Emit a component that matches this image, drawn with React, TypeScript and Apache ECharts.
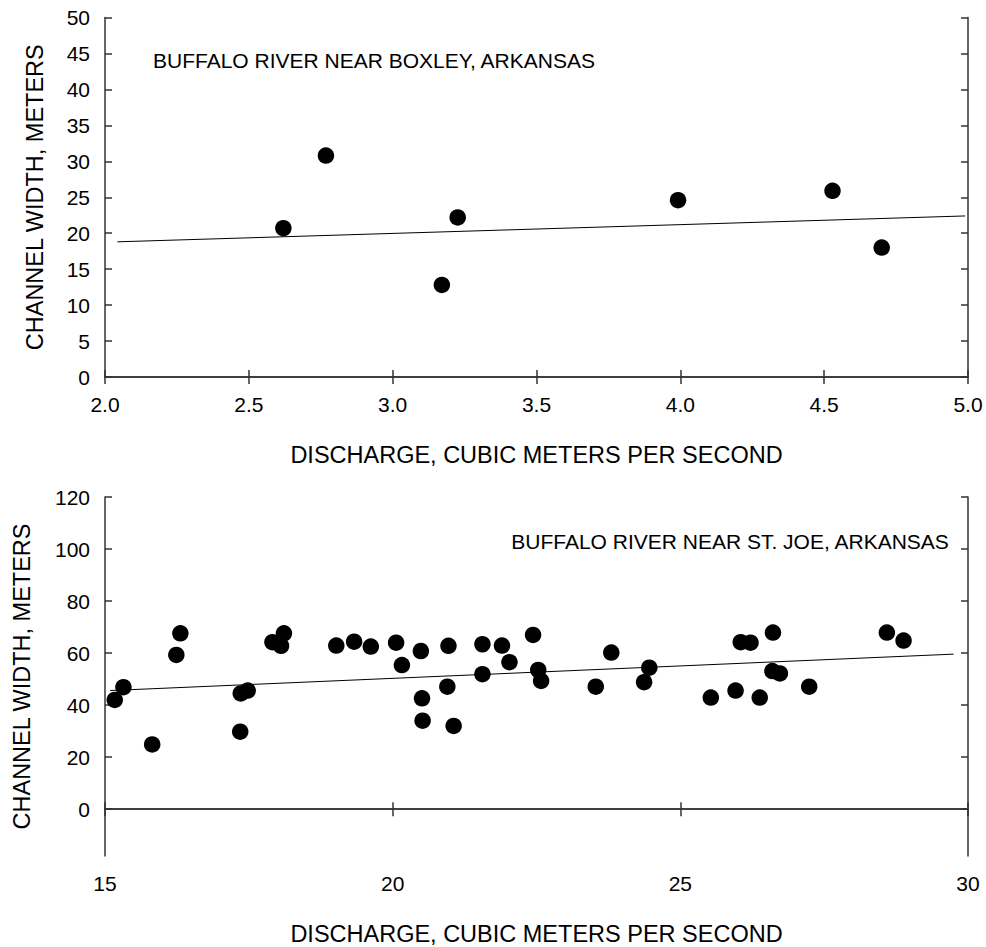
import React, { useEffect, useRef } from "react";
import * as echarts from "echarts";

// Buffalo River near Boxley, Arkansas
const boxleyDischarge = [2.62, 2.768, 3.171, 3.226, 3.992, 4.529, 4.70];
const boxleyWidth = [20.7, 30.8, 12.8, 22.2, 24.6, 25.9, 18.0];
const boxleyFitX = [2.043, 4.99];
const boxleyFitY = [18.8, 22.4];

// Buffalo River near St. Joe, Arkansas
const stJoeDischarge = [
  15.17, 15.32, 15.82, 16.24, 16.31, 17.35, 17.36, 17.48, 17.91, 18.06, 18.11,
  19.02, 19.33, 19.62, 20.06, 20.16, 20.49, 20.51, 20.52, 20.95, 20.97, 21.06,
  21.56, 21.56, 21.90, 22.03, 22.44, 22.53, 22.58, 23.53, 23.80, 24.37, 24.46,
  25.53, 25.96, 26.05, 26.22, 26.38, 26.61, 26.60, 26.73, 27.24, 28.59, 28.88,
];
const stJoeWidth = [
  42.0, 46.9, 24.9, 59.3, 67.6, 29.8, 44.5, 45.6, 64.2, 62.8, 67.6,
  62.9, 64.4, 62.5, 64.0, 55.4, 60.8, 42.6, 34.0, 47.1, 62.8, 32.0,
  63.4, 51.9, 62.9, 56.5, 67.0, 53.5, 49.3, 47.1, 60.2, 48.8, 54.4,
  42.9, 45.6, 64.2, 64.0, 42.9, 67.9, 53.1, 52.2, 47.1, 67.9, 64.8,
];
const stJoeFitX = [15.09, 29.75];
const stJoeFitY = [45.6, 59.6];

const stJoeYTicks = [0, 20, 40, 60, 80, 100, 120];

const xTitle = "DISCHARGE, CUBIC METERS PER SECOND";
const yTitle = "CHANNEL WIDTH, METERS";
const boxleyLabel = "BUFFALO RIVER NEAR BOXLEY, ARKANSAS";
const stJoeLabel = "BUFFALO RIVER NEAR ST. JOE, ARKANSAS";

const FONT = "'Liberation Sans', Arial, sans-serif";
const AXIS_COLOR = "#333";

export default function App() {
  const ref = useRef<HTMLDivElement>(null);

  useEffect(() => {
    document.body.style.margin = "0";
    if (!ref.current) return;
    const chart = echarts.init(ref.current, null, { renderer: "svg" });

    const axisLine = { show: true, lineStyle: { color: AXIS_COLOR, width: 1.5 } };
    const tick = { show: true, inside: true, length: 7, lineStyle: { color: AXIS_COLOR, width: 1.5 } };
    const labelStyle = { color: "#000", fontSize: 21, fontFamily: FONT };
    const nameStyle = { color: "#000", fontSize: 23.5, fontFamily: FONT };

    const zip = (xs: number[], ys: number[]) => xs.map((x, i) => [x, ys[i]]);

    const option: any = {
      animation: false,
      backgroundColor: "#fff",
      grid: [
        { left: 105, right: 18, top: 17.5, height: 359.5 },
        { left: 105, right: 18, top: 497, height: 359 },
      ],
      xAxis: [
        {
          type: "value", gridIndex: 0, position: "bottom", min: 2, max: 5, interval: 0.5,
          axisLine, axisTick: tick, splitLine: { show: false },
          axisLabel: { ...labelStyle, margin: 17, formatter: (v: number) => v.toFixed(1) },
          name: xTitle, nameLocation: "middle", nameGap: 66, nameTextStyle: nameStyle,
        },
        {
          type: "value", gridIndex: 0, position: "top", min: 2, max: 5, interval: 0.5,
          axisLine, axisTick: tick, splitLine: { show: false }, axisLabel: { show: false },
        },
        {
          type: "value", gridIndex: 1, position: "bottom", min: 15, max: 30, interval: 5,
          axisLine, axisTick: tick, splitLine: { show: false },
          axisLabel: { ...labelStyle, margin: 17 },
          name: xTitle, nameLocation: "middle", nameGap: 66, nameTextStyle: nameStyle,
        },
        {
          type: "value", gridIndex: 1, position: "top", min: 15, max: 30, interval: 5,
          axisLine, axisTick: tick, splitLine: { show: false }, axisLabel: { show: false },
        },
      ],
      yAxis: [
        {
          type: "value", gridIndex: 0, position: "left", min: 0, max: 50, interval: 5,
          axisLine, axisTick: tick, splitLine: { show: false },
          axisLabel: { ...labelStyle, margin: 15 },
          name: yTitle, nameLocation: "middle", nameGap: 58, nameTextStyle: nameStyle,
        },
        {
          type: "value", gridIndex: 0, position: "right", min: 0, max: 50, interval: 5,
          axisLine, axisTick: tick, splitLine: { show: false }, axisLabel: { show: false },
        },
        {
          type: "value", gridIndex: 1, position: "left", min: -18, max: 120,
          axisLine, axisTick: { ...tick, customValues: stJoeYTicks }, splitLine: { show: false },
          axisLabel: { ...labelStyle, margin: 15, customValues: stJoeYTicks },
          name: yTitle, nameLocation: "middle", nameGap: 71, nameTextStyle: nameStyle,
        },
        {
          type: "value", gridIndex: 1, position: "right", min: -18, max: 120,
          axisLine, axisTick: { ...tick, customValues: stJoeYTicks }, splitLine: { show: false },
          axisLabel: { show: false },
        },
      ],
      series: [
        {
          type: "line", xAxisIndex: 0, yAxisIndex: 0, data: zip(boxleyFitX, boxleyFitY),
          showSymbol: false, symbol: "none", lineStyle: { color: "#000", width: 1 }, silent: true,
        },
        {
          type: "scatter", xAxisIndex: 0, yAxisIndex: 0, data: zip(boxleyDischarge, boxleyWidth),
          symbol: "circle", symbolSize: 16.5, itemStyle: { color: "#000", opacity: 1 },
        },
        {
          type: "line", xAxisIndex: 2, yAxisIndex: 2, data: zip(stJoeFitX, stJoeFitY),
          showSymbol: false, symbol: "none", lineStyle: { color: "#000", width: 1 }, silent: true,
        },
        {
          type: "scatter", xAxisIndex: 2, yAxisIndex: 2, data: zip(stJoeDischarge, stJoeWidth),
          symbol: "circle", symbolSize: 16.5, itemStyle: { color: "#000", opacity: 1 },
        },
      ],
      graphic: [
        {
          type: "text", left: 153, top: 50,
          style: { text: boxleyLabel, fill: "#000", fontSize: 21, fontFamily: FONT },
        },
        {
          type: "text", right: 36, top: 531,
          style: { text: stJoeLabel, fill: "#000", fontSize: 21, fontFamily: FONT },
        },
      ],
    };

    chart.setOption(option);
    return () => chart.dispose();
  }, []);

  return <div ref={ref} style={{ width: 986, height: 947 }} />;
}
